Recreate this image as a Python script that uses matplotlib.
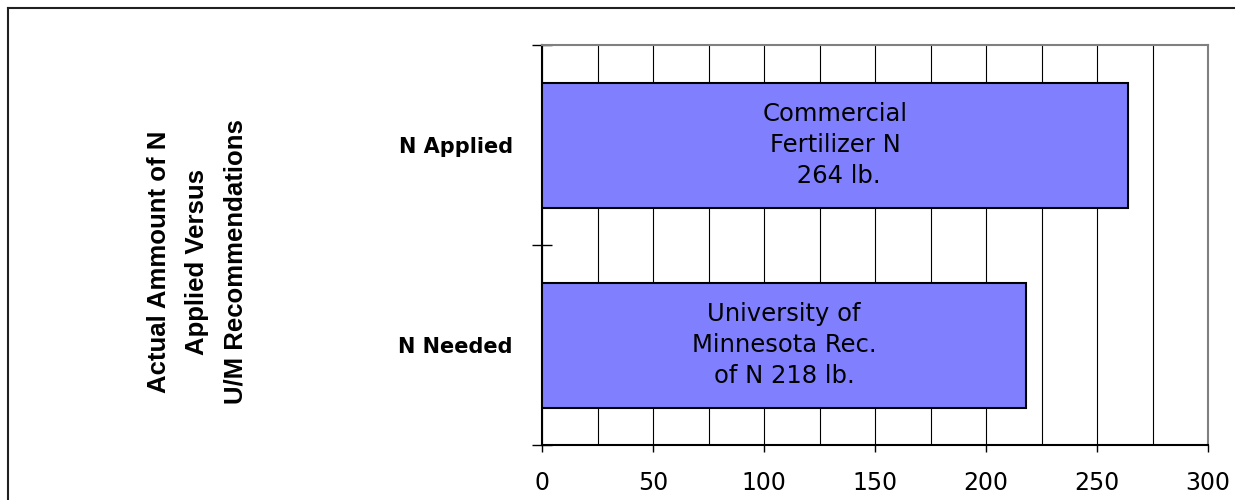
import matplotlib
matplotlib.use('Agg')
import matplotlib.pyplot as plt
from matplotlib.lines import Line2D

plt.rcParams['font.family'] = ['Liberation Sans', 'DejaVu Sans']

# data
categories = ['N Needed', 'N Applied']
values = [218, 264]
bar_texts = ['University of\nMinnesota Rec.\nof N 218 lb.',
             'Commercial\nFertilizer N\n 264 lb.']
ylabel = 'Actual Ammount of N\nApplied Versus\nU/M Recommendations'
xticks = [0, 50, 100, 150, 200, 250, 300]

# wide font stands in for the letter-spaced text of the original
wide = ['DejaVu Sans']

fig = plt.figure(figsize=(12.35, 5), dpi=100)
ax = fig.add_axes([542/1235, 55/500, 666/1235, 400/500])

ypos = list(range(len(categories)))
ax.barh(ypos, values, height=0.625, color='#8080FF', edgecolor='black',
        linewidth=1.5, zorder=3)

for y, v, t in zip(ypos, values, bar_texts):
    ax.text(v / 2, y, t, ha='center', va='center', multialignment='center',
            fontsize=17.5, linespacing=1.38, color='black', zorder=4,
            family=wide)

ax.set_xlim(0, 300)
ax.set_ylim(-0.5, 1.5)

# gridlines every 25, labels every 50
ax.set_xticks(xticks)
ax.set_xticklabels([str(x) for x in xticks], family=wide, fontsize=17)
ax.set_xticks(range(25, 300, 25), minor=True)
ax.grid(axis='x', which='both', color='black', linewidth=0.8, zorder=1)
ax.tick_params(axis='x', which='major', direction='out', length=5, width=1,
               pad=14)
ax.tick_params(axis='x', which='minor', length=0)

ax.set_yticks(ypos)
ax.set_yticklabels(categories, fontweight='bold', fontsize=15, family=wide)
ax.set_yticks([-0.5, 0.5, 1.5], minor=True)
ax.tick_params(axis='y', which='major', length=0, pad=21)
ax.tick_params(axis='y', which='minor', direction='inout', length=15, width=1)

for s in ['top', 'right']:
    ax.spines[s].set_color('#808080')
    ax.spines[s].set_linewidth(1.5)
for s in ['left', 'bottom']:
    ax.spines[s].set_color('black')
    ax.spines[s].set_linewidth(1.5)
ax.set_axisbelow(True)

fig.text(197/1235, 1 - 262/500, ylabel, rotation=90, ha='center', va='center',
         multialignment='center', fontsize=18.5, fontweight='bold', linespacing=1.75)

# outer frame (left and top edges visible)
fig.add_artist(Line2D([8/1235, 8/1235], [0, 1 - 8/500], color='#202020', linewidth=1.5,
                      transform=fig.transFigure))
fig.add_artist(Line2D([8/1235, 1], [1 - 8/500, 1 - 8/500], color='#202020', linewidth=1.5,
                      transform=fig.transFigure))

fig.savefig('out.png', dpi=100)
